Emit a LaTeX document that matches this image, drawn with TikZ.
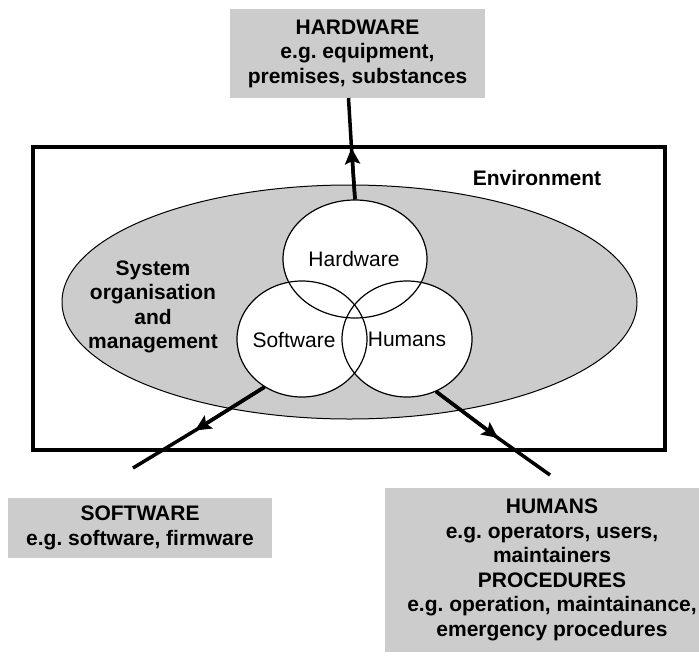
\documentclass[tikz,border=0pt]{standalone}
\usepackage{fontspec}
\setmainfont{Liberation Sans}
\usetikzlibrary{shapes.geometric,arrows.meta}
\definecolor{fillgray}{RGB}{204,204,204}
\pgfdeclarelayer{back}
\pgfsetlayers{back,main}
\frenchspacing
\begin{document}
\begin{tikzpicture}[x=1pt,y=-1pt,
  bold/.style={font=\fontsize{21}{24.5}\selectfont\bfseries, align=center},
  plain/.style={font=\fontsize{21}{24.5}\selectfont, align=center},
  gbox/.style={bold, fill=fillgray, draw=none, inner sep=0pt},
  circ/.style={ellipse, draw, line width=1.2pt, inner sep=0pt},
  conn/.style={line width=3.5pt},
  headed/.style={conn, -{Stealth[length=16pt,width=15pt,inset=3pt]}}]
\useasboundingbox (0,0) rectangle (699,667);
\clip (0,0) rectangle (699,667);

% environment frame
\node[draw, line width=3.8pt, minimum width=632pt, minimum height=303pt, inner sep=0pt] (env) at (349,298.5) {};

% system ellipse and the three circles
\node[circ, line width=1pt, minimum width=575pt, minimum height=234pt] (sys) at (349.5,302) {};
\node[circ, minimum width=144pt, minimum height=118pt] (hw) at (355,259) {};
\node[circ, minimum width=130pt, minimum height=116pt] (sw) at (302,339) {};
\node[circ, minimum width=130pt, minimum height=116pt] (hm) at (407,339) {};
\begin{pgfonlayer}{back}
  \fill[fillgray] (sys.center) ellipse [x radius=287.5pt, y radius=117pt];
  \fill[white] (hw.center) ellipse [x radius=72pt, y radius=59pt];
  \fill[white] (sw.center) ellipse [x radius=65pt, y radius=58pt];
  \fill[white] (hm.center) ellipse [x radius=65pt, y radius=58pt];
\end{pgfonlayer}

% labels
\node[plain] (hwl) at (354,259) {Hardware};
\node[plain] (swl) at (294,340) {Software};
\node[plain] (hml) at (407,339) {Humans};
\node[bold] (envl) at (537,178) {Environment};
\node[bold] (sysl) at (153,307) {System\\organisation\\and\\management};

% outer boxes
\node[gbox, minimum width=255pt, minimum height=89pt] (hwbox) at (357.5,53.5)
  {HARDWARE\\e.g. equipment,\\premises, substances};
\node[gbox, minimum width=264pt, minimum height=60pt] (swbox) at (140,528)
  {SOFTWARE\\e.g. software, firmware};
\node[gbox, minimum width=334pt, minimum height=164pt] (hmbox) at (552,570)
  {HUMANS\\e.g. operators, users,\\maintainers\\PROCEDURES\\e.g. operation, maintainance,\\emergency procedures};

% connectors
\coordinate (hwtip) at (351.5,148);
\coordinate (hwend) at (348.5,98);
\draw[conn] (hw.north) -- (hwtip) -- (hwend);
\draw[headed] (hw.north) -- (hwtip);

\coordinate (swtip) at (195,430.5);
\coordinate (swend) at (133,468);
\draw[conn] (sw.232) -- (swtip) -- (swend);
\draw[headed] (sw.232) -- (swtip);

\coordinate (hmtip) at (498,438);
\coordinate (hmend) at (550,475);
\draw[conn] (hm.299) -- (hmtip) -- (hmend);
\draw[headed] (hm.299) -- (hmtip);
\end{tikzpicture}
\end{document}
